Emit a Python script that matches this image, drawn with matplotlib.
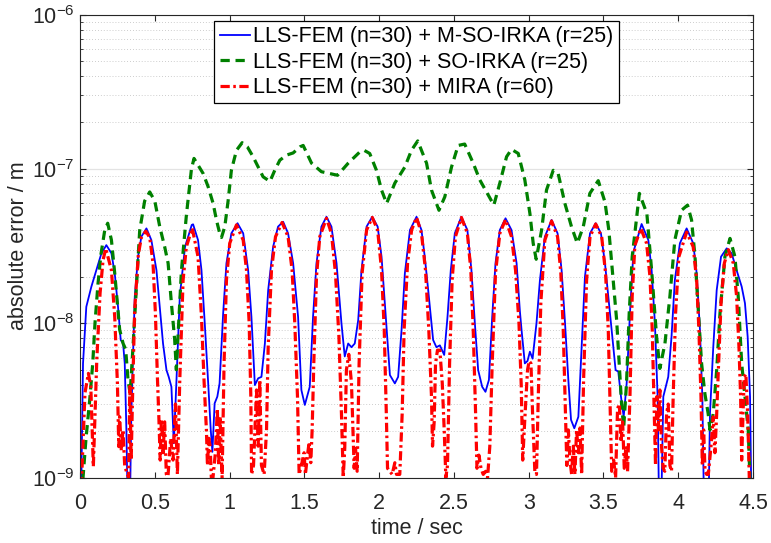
import numpy as np
import matplotlib
matplotlib.use("Agg")
import matplotlib.pyplot as plt

plt.rcParams["font.family"] = ["Liberation Sans", "DejaVu Sans"]
plt.rcParams["mathtext.fontset"] = "custom"
plt.rcParams["mathtext.rm"] = "Liberation Sans"

# values (time in s, absolute error in m)
# 5e-10 marks points that fall below the bottom of the axis
t_msoirka = [0.000, 0.009, 0.020, 0.042, 0.076, 0.109, 0.143, 0.176, 0.210, 0.232, 0.254, 0.272, 0.288, 0.299,
             0.310, 0.321, 0.332, 0.343, 0.366, 0.388, 0.410, 0.444, 0.477, 0.511, 0.533, 0.555, 0.578, 0.593,
             0.611, 0.627, 0.644, 0.667, 0.702, 0.747, 0.756, 0.789, 0.812, 0.834, 0.857, 0.874, 0.885, 0.900,
             0.918, 0.933, 0.957, 0.979, 1.012, 1.053, 1.091, 1.124, 1.146, 1.169, 1.191, 1.213, 1.236, 1.258,
             1.291, 1.324, 1.358, 1.391, 1.425, 1.458, 1.480, 1.503, 1.536, 1.558, 1.581, 1.614, 1.648, 1.681,
             1.715, 1.748, 1.770, 1.793, 1.815, 1.837, 1.860, 1.882, 1.916, 1.954, 1.990, 2.016, 2.043, 2.072,
             2.105, 2.127, 2.150, 2.172, 2.206, 2.250, 2.283, 2.305, 2.328, 2.361, 2.383, 2.406, 2.435, 2.457,
             2.479, 2.506, 2.550, 2.590, 2.617, 2.640, 2.662, 2.689, 2.711, 2.734, 2.756, 2.778, 2.807, 2.845,
             2.885, 2.919, 2.941, 2.952, 2.974, 2.992, 3.008, 3.026, 3.052, 3.075, 3.108, 3.153, 3.193, 3.220,
             3.243, 3.265, 3.283, 3.305, 3.332, 3.354, 3.376, 3.410, 3.448, 3.483, 3.510, 3.537, 3.559, 3.581,
             3.599, 3.617, 3.635, 3.655, 3.677, 3.700, 3.755, 3.800, 3.822, 3.844, 3.862, 3.873, 3.884, 3.900,
             3.933, 3.955, 3.977, 4.011, 4.056, 4.100, 4.123, 4.145, 4.161, 4.174, 4.201, 4.212, 4.234, 4.257,
             4.286, 4.324, 4.357, 4.390, 4.424, 4.446, 4.464, 4.480, 4.491]
err_msoirka = [5e-10, 1.0e-9, 5.5e-9, 1.28e-8, 1.73e-8, 2.21e-8, 2.84e-8, 3.21e-8, 2.84e-8, 2.11e-8, 1.28e-8,
               7.8e-9, 7.4e-9, 5.5e-9, 2.04e-9, 5e-10, 5e-10, 2.6e-9, 1.49e-8, 2.7e-8, 3.64e-8, 4.12e-8, 3.46e-8,
               2.21e-8, 1.28e-8, 7.4e-9, 4.98e-9, 4.5e-9, 3.88e-9, 1.67e-9, 4.08e-9, 1.49e-8, 3.13e-8, 4.34e-8,
               4.38e-8, 3.46e-8, 2.21e-8, 1.0e-8, 4.08e-9, 2.04e-9, 1.47e-9, 3.03e-9, 3.35e-9, 4.08e-9, 1.16e-8,
               2.45e-8, 3.83e-8, 4.45e-8, 3.83e-8, 2.21e-8, 1.1e-8, 3.98e-9, 4.4e-9, 4.5e-9, 7.4e-9, 1.64e-8,
               3.13e-8, 4.23e-8, 4.55e-8, 3.83e-8, 2.45e-8, 1.1e-8, 3.7e-9, 2.96e-9, 3.88e-9, 1.1e-8, 2.45e-8,
               4.23e-8, 4.9e-8, 4.23e-8, 2.45e-8, 1.0e-8, 6.1e-9, 7.4e-9, 7.0e-9, 7.4e-9, 1.05e-8, 2.21e-8,
               4.23e-8, 4.9e-8, 4.23e-8, 2.7e-8, 1.16e-8, 4.62e-9, 4.08e-9, 4.5e-9, 9.1e-9, 2.11e-8, 4.02e-8,
               4.9e-8, 4.02e-8, 2.7e-8, 1.64e-8, 7.8e-9, 7.0e-9, 7.2e-9, 6.24e-9, 1.1e-8, 2.21e-8, 3.83e-8,
               4.9e-8, 4.02e-8, 2.21e-8, 1.0e-8, 4.98e-9, 3.88e-9, 3.6e-9, 4.3e-9, 1.1e-8, 2.45e-8, 4.02e-8,
               4.79e-8, 4.02e-8, 2.45e-8, 1.2e-8, 9.1e-9, 5.5e-9, 5.7e-9, 6.55e-9, 5.9e-9, 1.0e-8, 1.9e-8,
               3.64e-8, 4.67e-8, 3.83e-8, 2.21e-8, 1.0e-8, 4.3e-9, 2.37e-9, 2.09e-9, 2.48e-9, 7.0e-9, 2.0e-8,
               3.83e-8, 4.45e-8, 3.83e-8, 2.45e-8, 1.35e-8, 8.2e-9, 4.98e-9, 4.87e-9, 3.35e-9, 2.48e-9, 4.08e-9,
               1.16e-8, 2.9e-8, 4.4e-8, 3.46e-8, 2.21e-8, 1.0e-8, 3.35e-9, 5e-10, 5e-10, 3.35e-9, 4.5e-9, 8.2e-9,
               1.9e-8, 3.3e-8, 4.12e-8, 3.3e-8, 2.11e-8, 9.1e-9, 3.35e-9, 5e-10, 5e-10, 2.6e-9, 7.0e-9, 1.64e-8,
               2.7e-8, 3.06e-8, 2.84e-8, 2.21e-8, 1.73e-8, 1.35e-8, 8.2e-9, 3.35e-9, 5e-10]

t_soirka = [0.000, 0.020, 0.040, 0.065, 0.085, 0.100, 0.120, 0.140, 0.165, 0.185, 0.210, 0.232, 0.265, 0.288,
            0.305, 0.321, 0.335, 0.354, 0.377, 0.399, 0.432, 0.466, 0.500, 0.533, 0.566, 0.589, 0.611, 0.633,
            0.644, 0.655, 0.678, 0.711, 0.745, 0.762, 0.823, 0.856, 0.890, 0.912, 0.934, 0.946, 0.968, 0.990,
            1.012, 1.046, 1.084, 1.119, 1.157, 1.191, 1.224, 1.270, 1.302, 1.336, 1.381, 1.425, 1.470, 1.492,
            1.548, 1.614, 1.722, 1.793, 1.871, 1.900, 1.937, 1.982, 2.016, 2.050, 2.105, 2.172, 2.216, 2.258,
            2.317, 2.350, 2.400, 2.439, 2.484, 2.528, 2.572, 2.629, 2.673, 2.729, 2.767, 2.807, 2.852, 2.885,
            2.930, 2.974, 3.008, 3.030, 3.050, 3.086, 3.119, 3.164, 3.197, 3.242, 3.286, 3.325, 3.365, 3.409,
            3.465, 3.510, 3.536, 3.565, 3.588, 3.605, 3.621, 3.635, 3.654, 3.672, 3.692, 3.740, 3.790, 3.822,
            3.855, 3.877, 3.911, 3.944, 3.977, 4.022, 4.062, 4.089, 4.112, 4.134, 4.156, 4.178, 4.200, 4.212,
            4.234, 4.257, 4.279, 4.312, 4.346, 4.379, 4.401, 4.424, 4.446, 4.468, 4.490]
err_soirka = [5e-10, 1.0e-9, 1.8e-9, 3.2e-9, 5.5e-9, 1.0e-8, 1.8e-8, 2.8e-8, 4.0e-8, 4.45e-8, 3.46e-8, 2.11e-8,
              9.1e-9, 7.4e-9, 6.8e-9, 4.3e-9, 3.5e-9, 7.0e-9, 1.73e-8, 4.0e-8, 6.2e-8, 7.1e-8, 6.2e-8, 4.23e-8,
              3.13e-8, 2.45e-8, 1.35e-8, 7.8e-9, 5.0e-9, 8.2e-9, 2.2e-8, 5.0e-8, 1.0e-7, 1.17e-7, 9.35e-8,
              7.7e-8, 5.98e-8, 4.67e-8, 3.83e-8, 3.6e-8, 4.23e-8, 6.2e-8, 9.8e-8, 1.32e-7, 1.48e-7, 1.39e-7,
              1.2e-7, 1.03e-7, 8.9e-8, 8.3e-8, 9.8e-8, 1.14e-7, 1.23e-7, 1.27e-7, 1.39e-7, 1.42e-7, 1.09e-7,
              9.6e-8, 9.1e-8, 1.09e-7, 1.29e-7, 1.32e-7, 1.26e-7, 9.8e-8, 7.3e-8, 5.98e-8, 8.1e-8, 1.03e-7,
              1.32e-7, 1.52e-7, 1.09e-7, 7.3e-8, 5.4e-8, 6.6e-8, 1.03e-7, 1.42e-7, 1.45e-7, 1.09e-7, 8.5e-8,
              6.8e-8, 5.83e-8, 8.1e-8, 1.2e-7, 1.34e-7, 1.26e-7, 8.5e-8, 5.15e-8, 3.3e-8, 2.6e-8, 4.0e-8, 7.3e-8,
              9.8e-8, 9.35e-8, 5.98e-8, 4.23e-8, 3.3e-8, 4.23e-8, 6.95e-8, 8.4e-8, 6.1e-8, 4.0e-8, 1.9e-8,
              1.05e-8, 5.5e-9, 3.0e-9, 2.1e-9, 4.08e-9, 1.16e-8, 2.7e-8, 6.95e-8, 5.15e-8, 2.2e-8, 8.2e-9,
              5.1e-9, 7.4e-9, 1.49e-8, 3.46e-8, 5.4e-8, 5.83e-8, 4.67e-8, 2.7e-8, 1.22e-8, 5.5e-9, 3.5e-9,
              2.6e-9, 2.04e-9, 2.6e-9, 4.98e-9, 1.16e-8, 2.7e-8, 3.55e-8, 2.7e-8, 1.49e-8, 5.5e-9, 3.35e-9,
              2.04e-9, 5e-10]

t_mira = [0.000, 0.011, 0.033, 0.056, 0.072, 0.089, 0.112, 0.134, 0.154, 0.172, 0.210, 0.232, 0.250, 0.259,
          0.265, 0.276, 0.287, 0.299, 0.317, 0.325, 0.333, 0.342, 0.350, 0.365, 0.390, 0.410, 0.440, 0.466,
          0.488, 0.504, 0.518, 0.527, 0.536, 0.544, 0.555, 0.566, 0.577, 0.588, 0.606, 0.622, 0.638, 0.651,
          0.667, 0.689, 0.711, 0.750, 0.789, 0.812, 0.829, 0.845, 0.852, 0.861, 0.870, 0.878, 0.889, 0.905,
          0.918, 0.927, 0.936, 0.950, 0.963, 0.979, 1.001, 1.046, 1.091, 1.113, 1.131, 1.142, 1.147, 1.160,
          1.180, 1.191, 1.202, 1.213, 1.231, 1.247, 1.258, 1.280, 1.307, 1.351, 1.391, 1.418, 1.436, 1.454,
          1.465, 1.480, 1.498, 1.507, 1.521, 1.532, 1.543, 1.552, 1.563, 1.581, 1.603, 1.648, 1.681, 1.708,
          1.731, 1.748, 1.760, 1.770, 1.781, 1.797, 1.815, 1.833, 1.842, 1.853, 1.866, 1.886, 1.916, 1.954,
          1.990, 2.016, 2.034, 2.048, 2.056, 2.072, 2.087, 2.105, 2.116, 2.138, 2.154, 2.167, 2.190, 2.217,
          2.250, 2.283, 2.310, 2.332, 2.350, 2.357, 2.368, 2.377, 2.390, 2.406, 2.422, 2.435, 2.446, 2.457,
          2.471, 2.488, 2.510, 2.550, 2.590, 2.613, 2.629, 2.645, 2.654, 2.667, 2.681, 2.696, 2.712, 2.725,
          2.740, 2.756, 2.778, 2.807, 2.845, 2.885, 2.912, 2.935, 2.950, 2.960, 2.974, 2.992, 3.003, 3.015,
          3.026, 3.041, 3.052, 3.064, 3.081, 3.108, 3.153, 3.193, 3.215, 3.231, 3.247, 3.255, 3.265, 3.276,
          3.287, 3.298, 3.309, 3.320, 3.332, 3.343, 3.354, 3.367, 3.387, 3.410, 3.448, 3.488, 3.514, 3.532,
          3.546, 3.555, 3.568, 3.581, 3.594, 3.606, 3.617, 3.628, 3.639, 3.650, 3.661, 3.677, 3.692, 3.710,
          3.750, 3.788, 3.811, 3.826, 3.840, 3.848, 3.857, 3.866, 3.877, 3.888, 3.899, 3.910, 3.922, 3.933,
          3.944, 3.955, 3.966, 3.982, 4.004, 4.056, 4.100, 4.123, 4.138, 4.152, 4.161, 4.170, 4.179, 4.190,
          4.201, 4.219, 4.234, 4.245, 4.257, 4.268, 4.286, 4.308, 4.335, 4.368, 4.390, 4.406, 4.417, 4.424,
          4.433, 4.441, 4.452, 4.464, 4.473, 4.482]
err_mira = [5e-10, 1.0e-9, 3.54e-9, 4.74e-9, 3.9e-9, 1.18e-9, 5.78e-9, 1.57e-8, 2.57e-8, 3.05e-8, 2.21e-8,
            1.1e-8, 4.08e-9, 1.59e-9, 2.48e-9, 1.5e-9, 2.04e-9, 1.18e-9, 1.05e-9, 1.0e-9, 3.9e-9, 1.3e-9, 3.0e-9,
            1.2e-8, 2.8e-8, 3.6e-8, 3.95e-8, 3.6e-8, 2.45e-8, 1.16e-8, 4.3e-9, 2.48e-9, 1.3e-9, 2.4e-9, 1.45e-9,
            2.3e-9, 1.05e-9, 1.02e-9, 1.8e-9, 1.3e-9, 3.0e-9, 1.05e-9, 4.3e-9, 1.9e-8, 3.13e-8, 4.15e-8, 2.7e-8,
            1.1e-8, 4.3e-9, 2.04e-9, 1.2e-9, 1.8e-9, 1.6e-9, 1.0e-9, 1.0e-9, 1.45e-9, 2.8e-9, 1.2e-9, 2.5e-9,
            1.0e-9, 5.5e-9, 1.9e-8, 3.3e-8, 4.34e-8, 3.46e-8, 2.21e-8, 1.0e-8, 3.35e-9, 1.05e-9, 1.2e-9, 3.7e-9,
            1.6e-9, 4.3e-9, 1.2e-9, 1.05e-9, 2.04e-9, 7.0e-9, 2.21e-8, 3.64e-8, 4.5e-8, 3.64e-8, 2.21e-8, 1.0e-8,
            3.35e-9, 1.05e-9, 1.2e-9, 1.45e-9, 1.05e-9, 1.4e-9, 1.7e-9, 1.25e-9, 2.04e-9, 5.5e-9, 2.0e-8, 3.64e-8,
            4.79e-8, 3.83e-8, 2.11e-8, 8.2e-9, 2.6e-9, 1.0e-9, 1.55e-9, 4.98e-9, 6.3e-9, 4.1e-9, 1.15e-9, 1.55e-9,
            1.1e-9, 5.5e-9, 2.11e-8, 4.02e-8, 4.85e-8, 4.02e-8, 2.21e-8, 9.1e-9, 2.6e-9, 1.15e-9, 1.1e-9, 1.05e-9,
            1.25e-9, 1.05e-9, 1.05e-9, 2.6e-9, 9.1e-9, 2.45e-8, 4.02e-8, 4.85e-8, 3.83e-8, 2.21e-8, 9.1e-9,
            3.35e-9, 1.6e-9, 2.3e-9, 5.5e-9, 6.7e-9, 6.7e-9, 4.1e-9, 2.04e-9, 1.0e-9, 1.2e-9, 5.5e-9, 1.9e-8,
            3.64e-8, 4.85e-8, 3.83e-8, 2.21e-8, 9.1e-9, 2.6e-9, 1.15e-9, 1.4e-9, 1.15e-9, 1.05e-9, 1.1e-9, 1.0e-9,
            1.6e-9, 5.5e-9, 2.11e-8, 3.83e-8, 4.7e-8, 3.64e-8, 2.21e-8, 1.0e-8, 4.0e-9, 1.3e-9, 2.4e-9, 4.98e-9,
            5.7e-9, 5.5e-9, 2.6e-9, 1.1e-9, 1.05e-9, 3.35e-9, 1.35e-8, 3.46e-8, 4.6e-8, 3.64e-8, 2.11e-8, 9.1e-9,
            2.4e-9, 1.2e-9, 2.04e-9, 1.3e-9, 1.05e-9, 1.6e-9, 1.05e-9, 2.04e-9, 1.45e-9, 2.1e-9, 1.05e-9, 4.3e-9,
            1.9e-8, 3.64e-8, 4.4e-8, 3.64e-8, 2.11e-8, 9.1e-9, 2.6e-9, 1.1e-9, 1.3e-9, 1.0e-9, 2.8e-9, 3.0e-9,
            1.7e-9, 2.3e-9, 1.15e-9, 1.6e-9, 1.1e-9, 3.35e-9, 1.5e-8, 3.2e-8, 4.12e-8, 3.3e-8, 2.0e-8, 9.1e-9,
            2.6e-9, 1.2e-9, 3.35e-9, 2.04e-9, 3.7e-9, 1.6e-9, 1.15e-9, 1.1e-9, 2.6e-9, 3.0e-9, 1.2e-9, 1.1e-9,
            3.35e-9, 1.16e-8, 2.7e-8, 3.9e-8, 3.13e-8, 1.9e-8, 9.1e-9, 3.35e-9, 1.2e-9, 2.04e-9, 1.1e-9, 1.05e-9,
            1.05e-9, 1.6e-9, 2.48e-9, 1.45e-9, 2.6e-9, 4.98e-9, 1.35e-8, 2.45e-8, 3.0e-8, 2.45e-8, 1.5e-8, 7.0e-9,
            3.35e-9, 1.3e-9, 2.6e-9, 4.5e-9, 4.7e-9, 2.6e-9, 1.2e-9, 5e-10]

labels = ["LLS-FEM (n=30) + M-SO-IRKA (r=25)",
          "LLS-FEM (n=30) + SO-IRKA (r=25)",
          "LLS-FEM (n=30) + MIRA (r=60)"]
x_ticks = [0, 0.5, 1, 1.5, 2, 2.5, 3, 3.5, 4, 4.5]

fs = 15.5

fig = plt.figure(figsize=(7.71, 5.43), dpi=100)
ax = fig.add_axes([0.1038, 0.1203, 0.8729, 0.8528])

ax.plot(t_msoirka, err_msoirka, "-", color=(0, 0, 1), lw=1.3, label=labels[0])
ax.plot(t_soirka, err_soirka, color=(0, 0.5, 0), lw=2.3, dashes=(2.9, 1.8), label=labels[1])
ax.plot(t_mira, err_mira, color=(1, 0, 0), lw=2.3, dashes=(2.9, 1.1, 0.8, 1.1), label=labels[2])

ax.set_yscale("log")
ax.set_xlim(0, 4.5)
ax.set_ylim(1e-9, 1e-6)
ax.set_xticks(x_ticks)
ax.set_xticklabels([f"{v:g}" for v in x_ticks])

ax.set_axisbelow(True)
ax.yaxis.grid(True, which="major", color="#e3e3e3", lw=0.9, ls="-")
ax.yaxis.grid(True, which="minor", color="#bdbdbd", lw=0.6, ls=(0, (1, 2.5)))

ax.tick_params(which="both", direction="in", top=True, right=True, colors="#262626",
               labelsize=fs)
ax.tick_params(which="major", length=4, width=0.8)
ax.tick_params(which="minor", length=2.5, width=0.6)
ax.tick_params(axis="x", pad=11)
ax.tick_params(axis="y", pad=4)
for s in ax.spines.values():
    s.set_color("#262626")
    s.set_linewidth(0.8)

ax.set_xlabel("time / sec", fontsize=fs, color="#262626", labelpad=3)
ax.set_ylabel("absolute error / m", fontsize=fs, color="#262626", labelpad=2)

leg = ax.legend(loc="upper center", fontsize=fs, fancybox=False, framealpha=1,
                edgecolor="black", borderaxespad=0.3, handlelength=1.4,
                handletextpad=0.15, borderpad=0.25, labelspacing=0.2)
leg.get_frame().set_linewidth(0.9)

fig.savefig("out.png", dpi=100)
